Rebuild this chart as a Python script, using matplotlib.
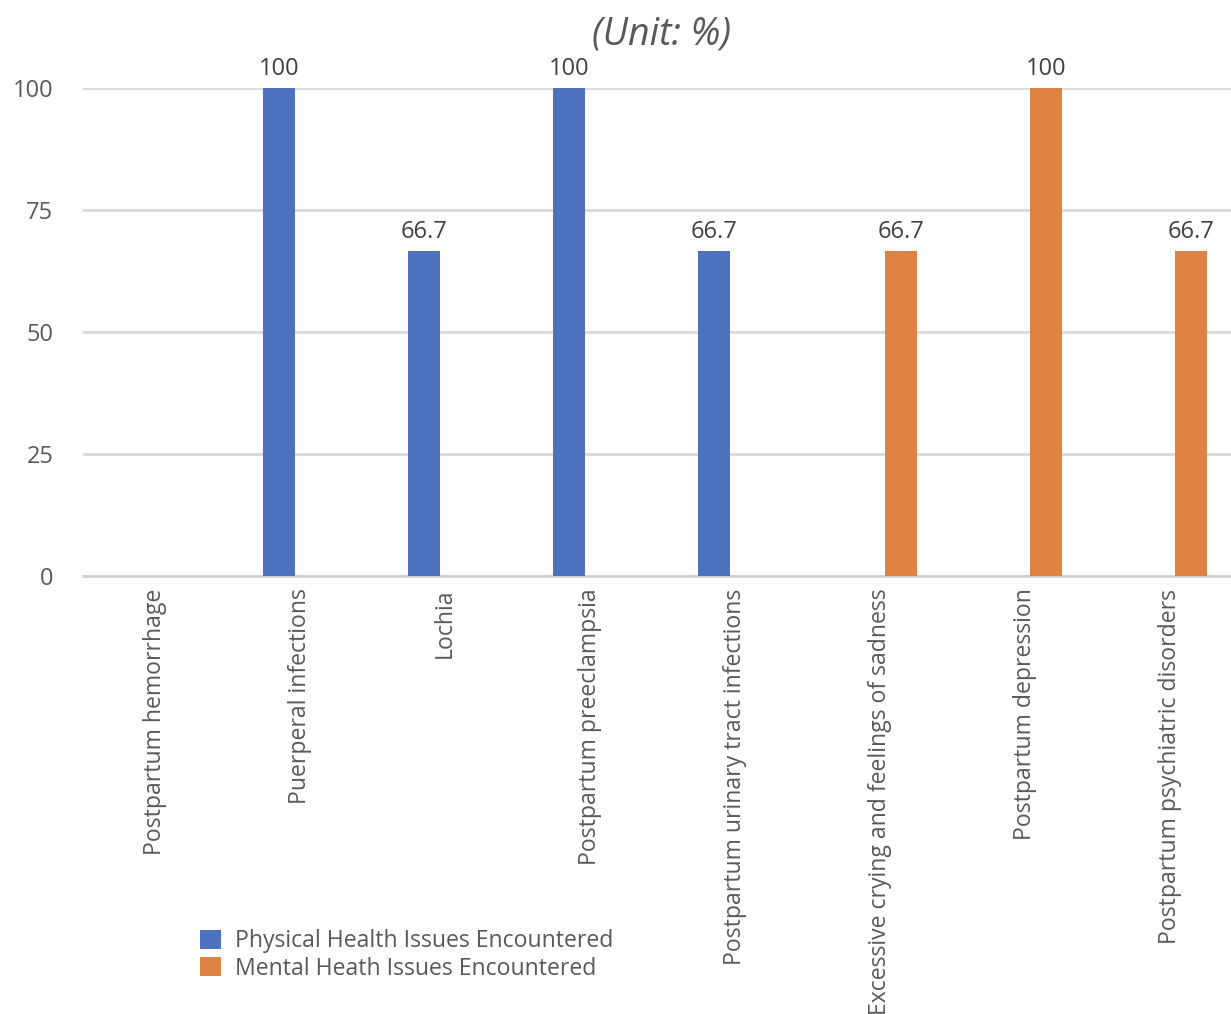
import matplotlib.pyplot as plt
import numpy as np

# Postpartum issue categories
categories = ['Postpartum hemorrhage', 'Puerperal infections', 'Lochia',
              'Postpartum preeclampsia', 'Postpartum urinary tract infections',
              'Excessive crying and feelings of sadness', 'Postpartum depression',
              'Postpartum psychiatric disorders']
physical = [np.nan, 100, 66.7, 100, 66.7, np.nan, np.nan, np.nan]
mental = [np.nan, np.nan, np.nan, np.nan, np.nan, 66.7, 100, 66.7]
yticks = [0, 25, 50, 75, 100]

blue = '#4E71BE'
orange = '#DF8344'
label_color = '#404040'
tick_color = '#595959'
grid_color = '#D9D9D9'

plt.rcParams['font.family'] = ['Open Sans', 'DejaVu Sans']

W, H = 1231, 1014
fig = plt.figure(figsize=(W / 100, H / 100), dpi=100, facecolor='white')
# axes placed in pixel terms, right side runs past the figure edge
ax = fig.add_axes([82.5 / W, (H - 576) / H, (1242.5 - 82.5) / W, (576 - 88) / H])

x = np.arange(len(categories))
width = 0.22
off = 0.147

b1 = ax.bar(x - off, physical, width, color=blue, label='Physical Health Issues Encountered', zorder=3)
b2 = ax.bar(x + off, mental, width, color=orange, label='Mental Heath Issues Encountered', zorder=3)

# value labels above bars
for bars, vals in [(b1, physical), (b2, mental)]:
    for rect, v in zip(bars, vals):
        if np.isnan(v):
            continue
        txt = f'{v:g}'
        ax.annotate(txt, (rect.get_x() + rect.get_width() / 2, v), xytext=(0, 5),
                    textcoords='offset points', ha='center', va='bottom',
                    fontsize=17, color=label_color, clip_on=False)

ax.set_xlim(-0.5, len(categories) - 0.5)
ax.set_ylim(0, 100)
ax.set_yticks(yticks)
ax.tick_params(axis='y', length=0, pad=21, labelsize=17, labelcolor=tick_color)
ax.set_xticks(x)
ax.set_xticklabels(categories, rotation=90, va='top', ha='center')
ax.tick_params(axis='x', length=0, pad=9, labelsize=16.6, labelcolor=tick_color)

ax.yaxis.grid(True, color=grid_color, linewidth=2, zorder=0)
ax.set_axisbelow(True)
for s in ['top', 'right', 'left']:
    ax.spines[s].set_visible(False)
ax.spines['bottom'].set_color('#D0D0D0')
ax.spines['bottom'].set_linewidth(2)

fig.text(661 / W, 1 - 35 / H, '(Unit: %)', ha='center', va='center',
         fontsize=27, style='italic', color=tick_color)

fig.legend(handles=[b1, b2], loc='center left', bbox_to_anchor=(200 / W, 1 - 955 / H),
           frameon=False, fontsize=16.6, labelcolor=tick_color, handlelength=0.9,
           handleheight=0.9, handletextpad=0.6, labelspacing=0.15, borderpad=0,
           borderaxespad=0)

fig.savefig('out.png', dpi=100, facecolor='white')
